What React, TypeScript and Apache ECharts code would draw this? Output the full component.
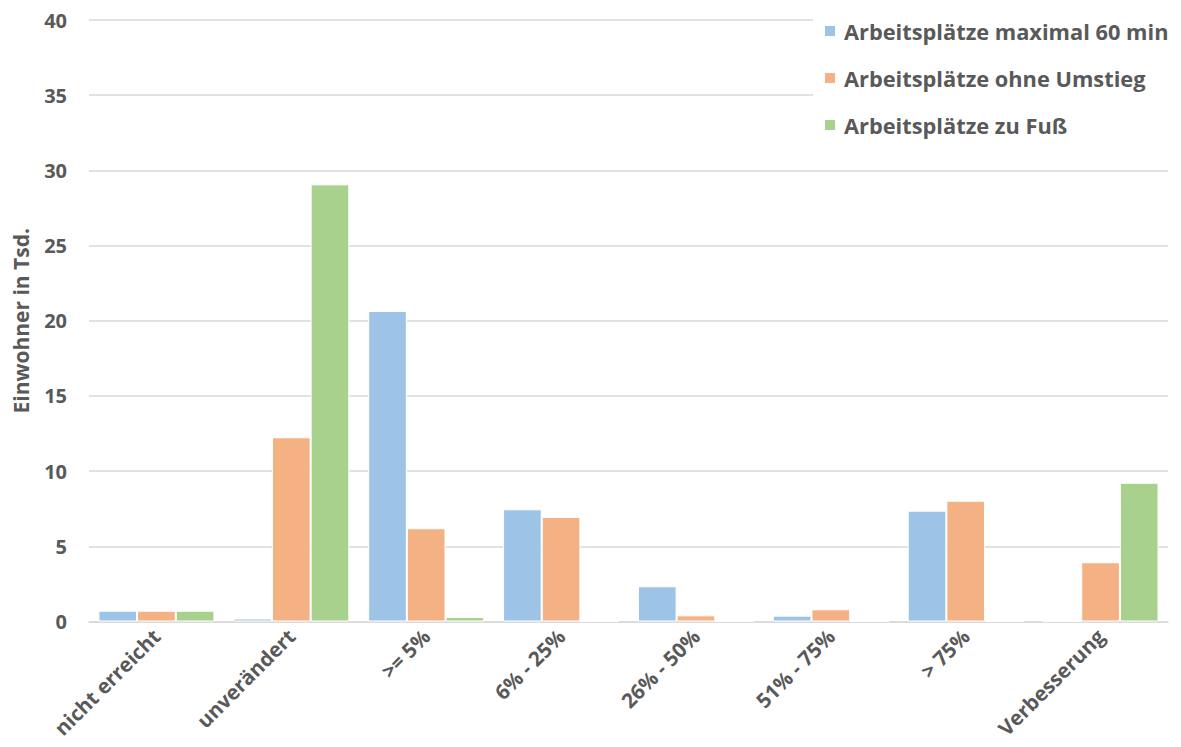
import React, { useEffect, useRef } from "react";
import * as echarts from "echarts";

const categories = [
  "nicht erreicht",
  "unverändert",
  ">= 5%",
  "6% - 25%",
  "26% - 50%",
  "51% - 75%",
  "> 75%",
  "Verbesserung",
];
const seriesNames = [
  "Arbeitsplätze maximal 60 min",
  "Arbeitsplätze ohne Umstieg",
  "Arbeitsplätze zu Fuß",
];
const max60 = [0.72, 0.2, 20.65, 7.46, 2.34, 0.39, 7.37, 0];
const ohneUmstieg = [0.72, 12.25, 6.2, 6.95, 0.41, 0.81, 8.03, 3.94];
const zuFuss = [0.72, 29.07, 0.3, 0, 0, 0, 0, 9.23];
const yTicks = { min: 0, max: 40, interval: 5 };
const colors = ["#9DC3E6", "#F4B183", "#A9D18E"];

export default function App() {
  const ref = useRef<HTMLDivElement>(null);
  useEffect(() => {
    document.body.style.margin = "0";
    const chart = echarts.init(ref.current!, null, { renderer: "svg" });
    const font = "'Open Sans', sans-serif";
    const values = [max60, ohneUmstieg, zuFuss];
    chart.setOption({
      animation: false,
      backgroundColor: "#ffffff",
      grid: { left: 89, right: 13, top: 20, bottom: 125.5, containLabel: false },
      legend: {
        orient: "vertical",
        left: 813,
        top: 10,
        padding: [8, 8, 10, 10],
        backgroundColor: "#ffffff",
        itemWidth: 12,
        itemHeight: 12,
        itemGap: 21,
        icon: "rect",
        data: seriesNames,
        textStyle: {
          fontFamily: font,
          fontWeight: "bold",
          fontSize: 21.8,
          color: "#595959",
          lineHeight: 26,
          padding: [0, 0, 0, 3],
        },
      },
      xAxis: {
        type: "category",
        data: categories,
        axisLine: { lineStyle: { color: "#d9d9d9", width: 1.5 } },
        axisTick: { show: false },
        axisLabel: {
          rotate: 45,
          interval: 0,
          margin: 11,
          fontFamily: font,
          fontWeight: "bold",
          fontSize: 20.5,
          color: "#595959",
        },
      },
      yAxis: {
        type: "value",
        min: yTicks.min,
        max: yTicks.max,
        interval: yTicks.interval,
        name: "Einwohner in Tsd.",
        nameLocation: "middle",
        nameGap: 58,
        nameTextStyle: {
          fontFamily: font,
          fontWeight: "bold",
          fontSize: 21,
          color: "#595959",
        },
        axisLine: { show: false },
        axisTick: { show: false },
        axisLabel: {
          margin: 22,
          fontFamily: font,
          fontWeight: "bold",
          fontSize: 20,
          color: "#595959",
        },
        splitLine: { lineStyle: { color: "#d9d9d9", width: 1.5 } },
      },
      series: seriesNames.map((name, i) => ({
        name,
        type: "bar",
        data: values[i],
        barGap: "0%",
        barCategoryGap: "14%",
        itemStyle: { color: colors[i], borderColor: "#ffffff", borderWidth: 1 },
      })),
    });
    return () => chart.dispose();
  }, []);
  return <div ref={ref} style={{ width: 1181, height: 747 }} />;
}
